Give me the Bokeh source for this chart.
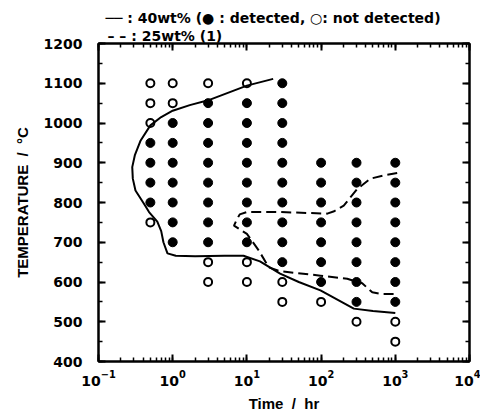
from bokeh.plotting import figure
from bokeh.models import (LogAxis, LinearAxis, SingleIntervalTicker, LogTicker,
                          Title, Range1d)
from bokeh.embed import file_html
from bokeh.resources import INLINE

# detected (filled) points
det_time = [0.5]*4 + [1]*7 + [3]*8 + [10]*8 + [30]*10 + [100]*7 + [300]*8 + [1000]*8
det_temp = ([950, 900, 850, 800] +
            [1000, 950, 900, 850, 800, 750, 700] +
            [1050, 1000, 950, 900, 850, 800, 750, 700] +
            [1050, 1000, 950, 900, 850, 800, 750, 700] +
            [1100, 1050, 1000, 950, 900, 850, 800, 750, 700, 650] +
            [900, 850, 800, 750, 700, 650, 600] +
            [900, 850, 800, 750, 700, 650, 600, 550] +
            [900, 850, 800, 750, 700, 650, 600, 550])

# not detected (open) points
nd_time = [0.5, 0.5, 0.5, 0.5, 1, 1, 3, 3, 3, 10, 10, 10, 30, 30, 100, 300, 1000, 1000]
nd_temp = [1100, 1050, 1000, 750, 1100, 1050, 1100, 650, 600, 1100, 650, 600, 600, 550, 550, 500, 500, 450]

# 40wt% boundary (solid)
c40_time = [22.6, 10, 3, 1.7, 1.0, 0.7, 0.5, 0.37, 0.31, 0.285, 0.29, 0.315, 0.41, 0.48,
            0.62, 0.7, 0.75, 0.85, 1.1, 2, 5, 9, 15, 28, 50, 98, 276, 500, 1000]
c40_temp = [1111, 1094, 1057, 1045, 1031, 1015, 994, 956, 920, 889, 860, 830, 797, 776,
            752, 728, 700, 672, 666, 665, 666, 666, 652, 621, 600, 579, 533, 527, 522]

# 25wt% boundary [1] (dashed)
c25_time = [1060, 700, 463, 307, 202, 150, 121, 28, 10, 8, 7.3, 6.7, 10, 14.5, 19.7,
            28, 98, 225, 358, 489, 632, 1000]
c25_temp = [874, 868, 860, 834, 792, 778, 772, 776, 776, 770, 757, 742, 721, 679, 637,
            627, 616, 608, 597, 574, 570, 570]

x_ticks = [0.1, 1, 10, 100, 1000, 10000]
x_tick_labels = ["10\u207b\u00b9", "10\u2070", "10\u00b9", "10\u00b2", "10\u00b3", "10\u2074"]

legend_40 = "\u2500\u2500 : 40wt% (\u25cf : detected, \u25cb: not detected)"
legend_25 = "\u2013 \u2013 : 25wt% (1)"

p = figure(width=480, height=416, x_axis_type="log",
           x_range=Range1d(0.1, 10000), y_range=Range1d(400, 1200),
           output_backend="svg", toolbar_location=None,
           min_border_left=98, min_border_right=11, min_border_top=43, min_border_bottom=55)
p.xgrid.visible = False
p.ygrid.visible = False
p.outline_line_color = "black"
p.outline_line_width = 2
p.background_fill_color = "white"
p.border_fill_color = "white"

tick_font = "DejaVu Sans"
title_font = "Liberation Sans"
nb = "\u00a0"

xa = p.xaxis[0]
xa.ticker = LogTicker(num_minor_ticks=10)
xa.major_label_overrides = {str(t) if t < 1 else str(int(t)): l for t, l in zip(x_ticks, x_tick_labels)}
xa.axis_label = "Time" + nb*2 + "/" + nb*2 + "hr"

ya = p.yaxis[0]
ya.ticker = SingleIntervalTicker(interval=100, num_minor_ticks=2)
ya.axis_label = "TEMPERATURE" + nb*2 + "/" + nb*2 + "\u00b0C"

for ax in (xa, ya):
    ax.axis_line_width = 2
    ax.major_tick_in = 7
    ax.major_tick_out = 0
    ax.minor_tick_in = 4
    ax.minor_tick_out = 0
    ax.major_tick_line_width = 2
    ax.minor_tick_line_width = 1.5
    ax.major_label_text_font = tick_font
    ax.major_label_text_font_style = "bold"
    ax.major_label_text_font_size = "14px"
    ax.major_label_text_color = "black"
    ax.axis_label_text_font = title_font
    ax.axis_label_text_font_style = "bold"
    ax.axis_label_text_font_size = "15px"
    ax.axis_label_text_color = "black"

xa.major_label_standoff = 8
xa.axis_label_standoff = 6
ya.major_label_standoff = 16
ya.axis_label_standoff = 10

top = LogAxis(ticker=LogTicker(num_minor_ticks=10))
right = LinearAxis(ticker=SingleIntervalTicker(interval=100, num_minor_ticks=2))
for ax in (top, right):
    ax.axis_line_width = 2
    ax.major_tick_in = 7
    ax.major_tick_out = 0
    ax.minor_tick_in = 4
    ax.minor_tick_out = 0
    ax.major_tick_line_width = 2
    ax.minor_tick_line_width = 1.5
    ax.major_label_text_font_size = "1px"
    ax.major_label_text_alpha = 0
    ax.major_label_standoff = 0
p.add_layout(right, "right")

t1 = Title(text=legend_40, align="left", offset=7, standoff=0, text_color="black",
           text_font=tick_font, text_font_style="bold", text_font_size="14px")
t2 = Title(text=legend_25, align="left", offset=9, standoff=0, text_color="black",
           text_font=tick_font, text_font_style="bold", text_font_size="14px")
p.title = None
p.above = [top, t2, t1]

p.scatter(det_time, det_temp, marker="circle", size=9, fill_color="black", line_color="black")
p.scatter(nd_time, nd_temp, marker="circle", size=8, fill_color="white",
          line_color="black", line_width=2)

p.line(c40_time, c40_temp, line_color="black", line_width=2)
p.line(c25_time, c25_temp, line_color="black", line_width=2, line_dash="10 5")

open("out.html", "w").write(file_html(p, INLINE))
